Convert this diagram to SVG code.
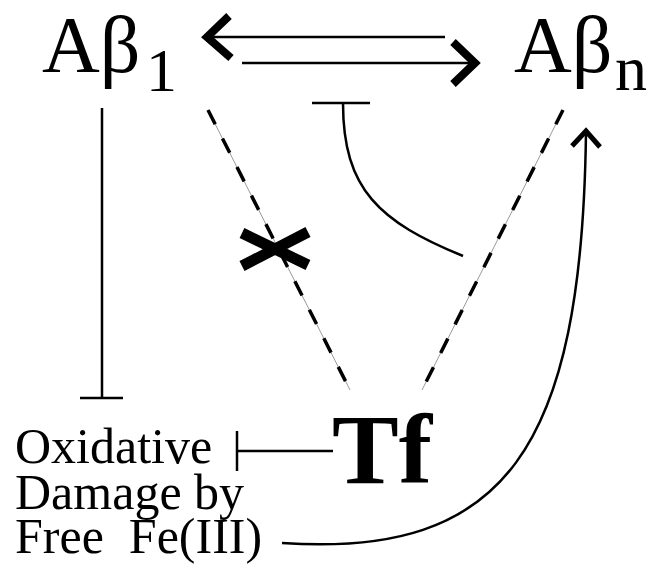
<svg xmlns="http://www.w3.org/2000/svg" width="648" height="566" viewBox="0 0 648 566">
<style>
.t{font-family:"Liberation Serif","Times New Roman",serif;fill:#000}
.ln{fill:none;stroke:#000;stroke-width:2.5}
.chev{fill:none;stroke:#000;stroke-width:8;stroke-linejoin:miter;stroke-linecap:butt}
.dbase{fill:none;stroke:#999;stroke-width:1}
.dash{fill:none;stroke:#000;stroke-width:3.5;stroke-dasharray:16 16}
.lbl{font-size:50px}
</style>
<rect width="648" height="566" fill="#fff"/>
<g id="ab1"><text class="t" x="42" y="72" font-size="80">Aβ</text><text class="t" x="146" y="91" font-size="62">1</text></g>
<g id="abn"><text class="t" x="514" y="72" font-size="80">Aβ</text><text class="t" x="615" y="90" font-size="64">n</text></g>
<g id="tf"><text class="t" x="332" y="483" font-size="100" font-weight="bold">Tf</text></g>
<g id="ox"><text class="t lbl" xml:space="preserve"><tspan x="15" y="463">Oxidative</tspan><tspan x="15" y="509">Damage by</tspan><tspan x="15" y="553">Free  Fe(III)</tspan></text></g>
<g id="connectors">
<line class="ln" x1="210" y1="37" x2="445" y2="37"/>
<polyline class="chev" points="229,16 207,37 231,58"/>
<line class="ln" x1="242" y1="63" x2="474" y2="63"/>
<polyline class="chev" points="453,42 475,63 453,84"/>
<path class="ln" d="M343,103 C343,190 380,222 463,256"/>
<line class="ln" x1="312" y1="103" x2="370" y2="103"/>
<line class="ln" x1="102" y1="108" x2="102" y2="398"/>
<line class="ln" x1="80" y1="398" x2="123" y2="398"/>
<line class="dbase" x1="208" y1="110" x2="350" y2="390"/>
<line class="dash" x1="208" y1="110" x2="350" y2="390"/>
<line class="dbase" x1="563" y1="110" x2="422" y2="390"/>
<line class="dash" x1="563" y1="110" x2="422" y2="390"/>
<path d="M242,233 L308,265 M242,266 L308,232" fill="none" stroke="#000" stroke-width="11"/>
<line class="ln" x1="237" y1="451" x2="333" y2="451"/>
<line class="ln" x1="237" y1="431" x2="237" y2="471"/>
<path class="ln" d="M282,543 C505,558 582,450 586,132"/>
<polyline fill="none" stroke="#000" stroke-width="5" points="572,146 586,131 600,147"/>
</g>
</svg>
